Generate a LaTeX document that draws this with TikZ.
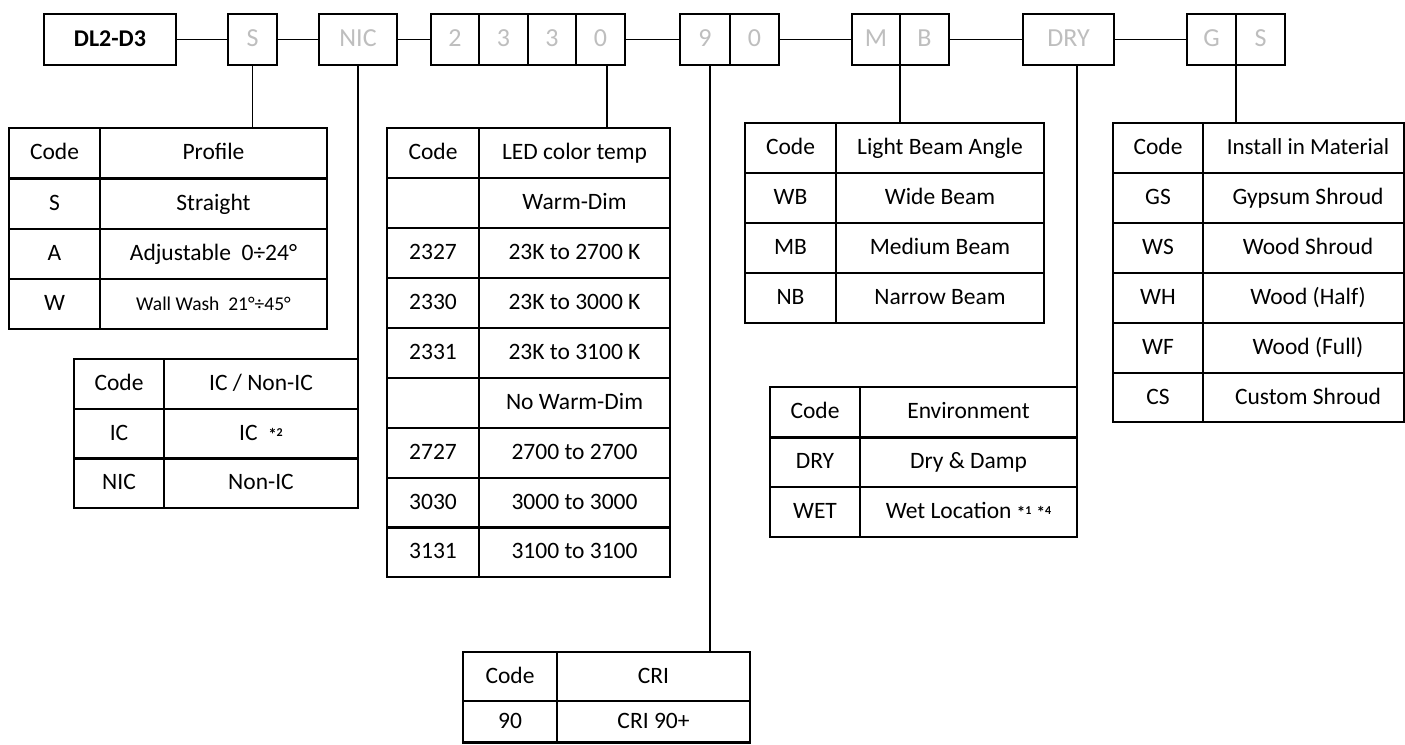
\documentclass[tikz,border=0pt]{standalone}
\usepackage{fontspec}
\setmainfont{Carlito}
\definecolor{lgray}{RGB}{190,190,190}
\tikzset{
  tline/.style={line width=2.2pt, line join=miter},
  conn/.style={line width=1.6pt},
  cell/.style={inner sep=0pt, text height=17pt, text depth=4pt, font=\fontsize{23.5}{28}\selectfont, text=black},
  topbox/.style={draw, line width=2pt, minimum height=51pt, inner sep=0pt, text height=18pt, text depth=4pt, text=lgray, font=\fontsize{26}{30}\selectfont},
}
% #1 name, #2 left, #3 divider, #4 right, #5 top, #6 bottom, #7 code, #8 description
\newcommand{\tabrow}[8]{%
  \draw[tline] (#2,#5) rectangle (#4,#6);
  \draw[tline] (#3,#5) -- (#3,#6);
  \node[cell] (#1c) at ({(#2+#3)/2},{(#5+#6)/2}) {#7};
  \node[cell] (#1d) at ({(#3+#4)/2},{(#5+#6)/2}) {#8};
}
\newcommand{\sstar}[1]{{\bfseries\fontsize{17}{17}\selectfont *\raisebox{0.45ex}{\fontsize{12}{12}\selectfont #1}}}
\begin{document}
\begin{tikzpicture}[x=1pt,y=-1pt]
\useasboundingbox[fill=white] (0,0) rectangle (1405,744);

% ---------- top code row ----------
\node[topbox, minimum width=132pt, text=black, font=\fontsize{24}{28}\selectfont\bfseries] (DL) at (110,39.5) {DL2-D3};
\node[topbox, minimum width=49pt] (S) at (252.5,39.5) {S};
\node[topbox, minimum width=78pt] (NIC) at (358,39.5) {NIC};
\node[topbox, minimum width=48.5pt] (c1) at (455,39.5) {2};
\node[topbox, minimum width=48.5pt] (c2) at (503.5,39.5) {3};
\node[topbox, minimum width=48.5pt] (c3) at (552,39.5) {3};
\node[topbox, minimum width=48.5pt] (c4) at (600.5,39.5) {0};
\node[topbox, minimum width=50pt] (n9) at (705,39.5) {9};
\node[topbox, minimum width=49pt] (n0) at (754.5,39.5) {0};
\node[topbox, minimum width=48pt] (mM) at (876,39.5) {M};
\node[topbox, minimum width=49pt] (mB) at (924.5,39.5) {B};
\node[topbox, minimum width=91pt] (DRY) at (1068.5,39.5) {DRY};
\node[topbox, minimum width=49pt] (gG) at (1211.5,39.5) {G};
\node[topbox, minimum width=49pt] (gS) at (1260.5,39.5) {S};

\draw[conn] (DL.east) -- (S.west);
\draw[conn] (S.east) -- (NIC.west);
\draw[conn] (NIC.east) -- (c1.west);
\draw[conn] (c4.east) -- (n9.west);
\draw[conn] (n0.east) -- (mM.west);
\draw[conn] (mB.east) -- (DRY.west);
\draw[conn] (DRY.east) -- (gG.west);

% ---------- Profile table ----------
\tabrow{p0}{9}{100}{327}{128}{178.5}{Code}{Profile}
\tabrow{p1}{9}{100}{327}{178.5}{229}{S}{Straight}
\tabrow{p2}{9}{100}{327}{229}{279}{A}{Adjustable\ \ 0÷24°}
\tabrow{p3}{9}{100}{327}{279}{329}{W}{\fontsize{19.5}{24}\selectfont Wall Wash\ \ 21°÷45°}

% ---------- IC table ----------
\tabrow{i0}{74}{164}{358}{359}{409}{Code}{IC / Non-IC}
\tabrow{i1}{74}{164}{358}{409}{458.5}{IC}{IC\ \ \sstar{2}}
\tabrow{i2}{74}{164}{358}{458.5}{508}{NIC}{Non-IC}

% ---------- LED table ----------
\tabrow{l0}{387}{479}{670}{128}{178}{Code}{LED color temp}
\tabrow{l1}{387}{479}{670}{178}{228}{}{Warm-Dim}
\tabrow{l2}{387}{479}{670}{228}{278}{2327}{23K to 2700 K}
\tabrow{l3}{387}{479}{670}{278}{328}{2330}{23K to 3000 K}
\tabrow{l4}{387}{479}{670}{328}{378}{2331}{23K to 3100 K}
\tabrow{l5}{387}{479}{670}{378}{428}{}{No Warm-Dim}
\tabrow{l6}{387}{479}{670}{428}{478}{2727}{2700 to 2700}
\tabrow{l7}{387}{479}{670}{478}{527.5}{3030}{3000 to 3000}
\tabrow{l8}{387}{479}{670}{527.5}{577}{3131}{3100 to 3100}

% ---------- CRI table ----------
\tabrow{r0}{463}{557}{750}{652}{701}{Code}{CRI}
\tabrow{r1}{463}{557}{750}{701}{742.5}{90}{CRI 90+}

% ---------- Beam table ----------
\tabrow{b0}{745}{836}{1044}{123}{173}{Code}{Light Beam Angle}
\tabrow{b1}{745}{836}{1044}{173}{223}{WB}{Wide Beam}
\tabrow{b2}{745}{836}{1044}{223}{273}{MB}{Medium Beam}
\tabrow{b3}{745}{836}{1044}{273}{323}{NB}{Narrow Beam}

% ---------- Environment table ----------
\tabrow{e0}{770}{860}{1077}{387}{437.5}{Code}{Environment}
\tabrow{e1}{770}{860}{1077}{437.5}{487}{DRY}{Dry \& Damp}
\tabrow{e2}{770}{860}{1077}{487}{537}{WET}{Wet Location \sstar{1} \sstar{4}}

% ---------- Install table ----------
\tabrow{g0}{1113}{1203}{1404}{123}{173}{Code}{}
\tabrow{g1}{1113}{1203}{1404}{173}{223}{GS}{}
\tabrow{g2}{1113}{1203}{1404}{223}{273}{WS}{}
\tabrow{g3}{1113}{1203}{1404}{273}{323}{WH}{}
\tabrow{g4}{1113}{1203}{1404}{323}{373}{WF}{}
\tabrow{g5}{1113}{1203}{1404}{373}{422}{CS}{}
\node[cell, font=\fontsize{23}{28}\selectfont] (g0t) at (1308,148) {Install in Material};
\node[cell] (g1t) at (1308,198) {Gypsum Shroud};
\node[cell] (g2t) at (1308,248) {Wood Shroud};
\node[cell] (g3t) at (1308,298) {Wood (Half)};
\node[cell] (g4t) at (1308,348) {Wood (Full)};
\node[cell] (g5t) at (1308,397.5) {Custom Shroud};

% ---------- connectors down to tables ----------
\coordinate (pTop) at (252.5,128);
\coordinate (iTop) at (358,359);
\coordinate (lTop) at (607,128);
\coordinate (rTop) at (710,652);
\coordinate (bTop) at (900,123);
\coordinate (eTop) at (1077,387);
\coordinate (gTop) at (1236,123);
\draw[conn] (S.south) -- (pTop);
\draw[conn] (NIC.south) -- (iTop);
\draw[conn] (lTop |- c4.south) -- (lTop);
\draw[conn] (rTop |- n9.south) -- (rTop);
\draw[conn] (bTop |- mB.south) -- (bTop);
\draw[conn] (eTop |- DRY.south) -- (eTop);
\draw[conn] (gTop |- gS.south) -- (gTop);
\end{tikzpicture}
\end{document}
